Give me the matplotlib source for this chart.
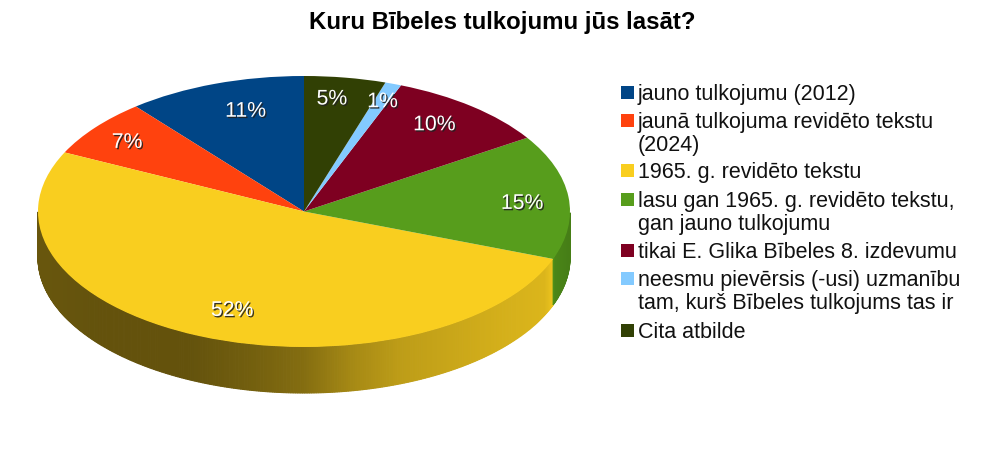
import numpy as np
import matplotlib.pyplot as plt
from matplotlib.colors import to_rgb
from matplotlib.patches import Rectangle
import matplotlib.patheffects as pe

W, H = 1002, 457
plt.rcParams['font.family'] = ['Liberation Sans', 'DejaVu Sans']

title = 'Kuru Bībeles tulkojumu jūs lasāt?'
answers = [
    'jauno tulkojumu (2012)',
    'jaunā tulkojuma revidēto tekstu\n(2024)',
    '1965. g. revidēto tekstu',
    'lasu gan 1965. g. revidēto tekstu,\ngan jauno tulkojumu',
    'tikai E. Glika Bībeles 8. izdevumu',
    'neesmu pievērsis (-usi) uzmanību\ntam, kurš Bībeles tulkojums tas ir',
    'Cita atbilde',
]
percent = [11, 7, 52, 15, 10, 1, 5]
colors = ['#004586', '#ff420e', '#f9ce1f', '#579d1c', '#7e0021', '#83caff', '#314004']

# pie geometry in pixels
cx, cy, rx, ry, depth = 304, 211.5, 266, 135.5, 46

# label centres in pie units (x/rx, y/ry)
label_x = [-0.22, -0.665, -0.27, 0.82, 0.49, 0.295, 0.105]
label_y = [0.74, 0.51, -0.73, 0.06, 0.64, 0.81, 0.83]

# legend text tops in pixels
legend_y = [84, 112, 162, 191, 242, 270, 322]

# shading of the rim by screen x
shade_x = [38, 100, 190, 250, 304, 350, 400, 500, 545, 553, 556, 570]
shade_v = [0.42, 0.40, 0.40, 0.46, 0.53, 0.66, 0.76, 0.85, 0.88, 0.95, 0.85, 0.80]

fig = plt.figure(figsize=(W / 100, H / 100), dpi=100)
ax = fig.add_axes([0, 0, 1, 1])
wedges, _ = ax.pie(percent, colors=colors, startangle=90, counterclock=True,
                   wedgeprops={'linewidth': 0, 'zorder': 3})
ax.set_aspect('auto')
ax.set_xlim(-cx / rx, (W - cx) / rx)
ax.set_ylim((cy - H) / ry, cy / ry)

# rim of the disc, thin strips under each slice
d = depth / ry
for w, col in zip(wedges, colors):
    t = np.radians(np.arange(w.theta1, w.theta2 + 0.5, 0.5))
    t = t[np.sin(t) <= 0.0]
    for a, b in zip(t[:-1], t[1:]):
        xs = [np.cos(a), np.cos(b), np.cos(b), np.cos(a)]
        ys = [np.sin(a), np.sin(b), np.sin(b) - d, np.sin(a) - d]
        v = np.interp(cx + rx * (np.cos(a) + np.cos(b)) / 2, shade_x, shade_v)
        c = np.array(to_rgb(col)) * v
        ax.fill(xs, ys, facecolor=c, edgecolor=c, lw=0.8, zorder=2)

shadow = [pe.withSimplePatchShadow(offset=(1, -1), shadow_rgbFace='#222222', alpha=0.9)]
for x, y, p in zip(label_x, label_y, percent):
    ax.text(x, y, f'{p}%', color='white', fontsize=15.3, ha='center', va='center',
            zorder=5, path_effects=shadow)

fig.text(502 / W, 1 - 23 / H, title, fontsize=17.3, fontweight='bold',
         ha='center', va='center', color='black')

for y, label, col in zip(legend_y, answers, colors):
    fig.patches.append(Rectangle((621 / W, 1 - (y + 15) / H), 13 / W, 13 / H,
                                 color=col, lw=0, transform=fig.transFigure))
    fig.text(638 / W, 1 - y / H, label, fontsize=15.5, va='top', ha='left',
             color='#111111', linespacing=1.1)

fig.savefig('out.png', dpi=100)
